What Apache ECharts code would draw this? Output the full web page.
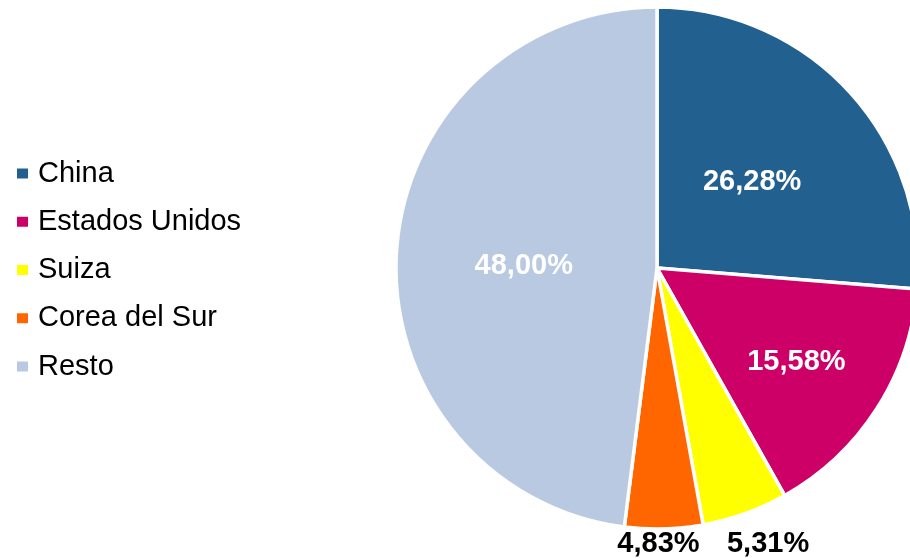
<!DOCTYPE html>
<html>
<head>
<meta charset="utf-8">
<script src="https://cdn.jsdelivr.net/npm/echarts@6/dist/echarts.min.js"></script>
<style>
  html, body { margin: 0; padding: 0; background: #fff; }
  #pie { width: 910px; height: 558px; }
</style>
</head>
<body>
<div id="pie"></div>
<script>
// cuota por pais (%)
let paises = ['China', 'Estados Unidos', 'Suiza', 'Corea del Sur', 'Resto']
let valores = [26.28, 15.58, 5.31, 4.83, 48.00]
let colores = ['#22608F', '#CC0066', '#FFFF00', '#FF6600', '#B8C9E1']

let chart = echarts.init(document.querySelector('#pie'))

// ajustes de etiqueta por sector
let etiquetas = [
    { color: '#fff', offset: [-3, 5] },
    { color: '#fff', offset: [27, 22] },
    { color: '#000', offset: [66, 150] },
    { color: '#000', offset: [-2, 143] },
    { color: '#fff', offset: [0, 6] }
]

let datos = []
for (let i = 0; i < paises.length; i++) {
    datos.push({
        name: paises[i],
        value: valores[i],
        itemStyle: { color: colores[i] },
        label: { color: etiquetas[i].color, offset: etiquetas[i].offset }
    })
}

let option = {
    backgroundColor: '#fff',
    animation: false,
    legend: {
        orient: 'vertical',
        left: 15,
        top: 159,
        padding: 0,
        itemWidth: 13,
        itemHeight: 12,
        itemGap: 19.25,
        icon: 'rect',
        textStyle: {
            fontFamily: 'Liberation Sans, Arial, sans-serif',
            fontSize: 29,
            lineHeight: 29,
            color: '#000',
            padding: [0, 0, 0, 4]
        },
        data: paises
    },
    series: [{
        type: 'pie',
        center: [657, 268],
        radius: 261,
        startAngle: 90,
        clockwise: true,
        itemStyle: { borderColor: '#fff', borderWidth: 3.5 },
        label: {
            show: true,
            position: 'inside',
            fontFamily: 'Liberation Sans, Arial, sans-serif',
            fontSize: 29,
            fontWeight: 'bold',
            formatter: function (p) {
                return p.value.toFixed(2).replace('.', ',') + '%'
            }
        },
        labelLine: { show: false },
        emphasis: { disabled: true },
        data: datos
    }]
}

chart.setOption(option)
</script>
</body>
</html>
